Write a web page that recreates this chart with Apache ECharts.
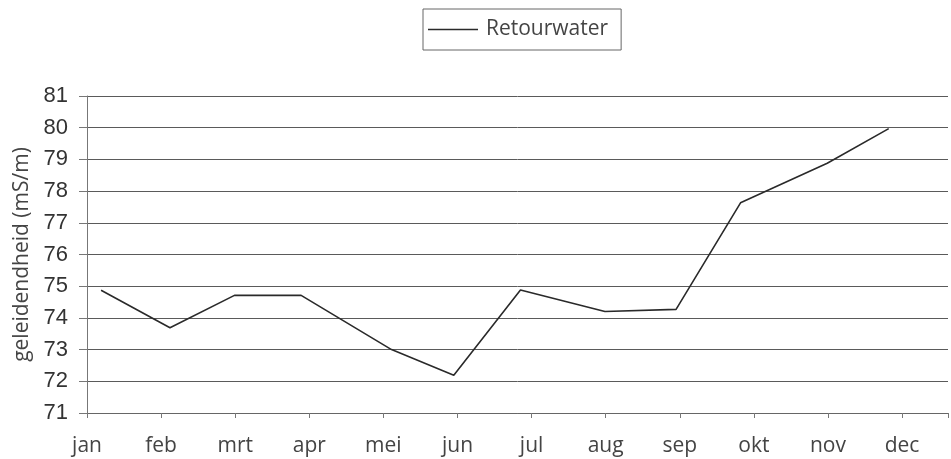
<!DOCTYPE html>
<html>
<head>
<meta charset="utf-8">
<script src="https://cdn.jsdelivr.net/npm/echarts@6/dist/echarts.min.js"></script>
<style>html,body{margin:0;padding:0;background:#fff;}#c{width:951px;height:459px;}</style>
</head>
<body>
<div id="c"></div>
<script>
// Month tick labels (x axis, one per month start)
const monthLabels = ['jan','feb','mrt','apr','mei','jun','jul','aug','sep','okt','nov','dec'];
// Measurement moments, in months since 1 January
const measureMonth = [0.19, 1.12, 1.99, 2.89, 4.11, 4.95, 5.85, 6.99, 7.95, 8.82, 9.99, 10.82];
// Conductivity of return water (mS/m)
const retourwater = [74.87, 73.69, 74.71, 74.71, 73.0, 72.19, 74.88, 74.2, 74.27, 77.63, 78.88, 79.97];
const yTicks = [71, 72, 73, 74, 75, 76, 77, 78, 79, 80, 81];

const chart = echarts.init(document.getElementById('c'), null, {renderer: 'canvas'});
const data = measureMonth.map((m, i) => [m, retourwater[i]]);

chart.setOption({
  animation: false,
  backgroundColor: '#ffffff',
  legend: {
    left: 423, top: 9,
    padding: [10, 13, 10, 5],
    borderColor: '#666', borderWidth: 1,
    itemWidth: 53, itemHeight: 14, itemGap: 8,
    textStyle: {fontFamily: 'Open Sans', fontSize: 21, color: '#444'},
    data: [{name: 'Retourwater', icon: 'path://M0,0 L50,0 L50,1.6 L0,1.6 Z M53,0 L53,0.01 L52.99,0 Z'}]
  },
  grid: {left: 87, right: 0, top: 96, bottom: 46, containLabel: false},
  xAxis: {
    type: 'value',
    min: 0, max: 11.62, interval: 1,
    axisLine: {show: true, lineStyle: {color: '#666', width: 1}},
    axisTick: {show: true, length: 5, lineStyle: {color: '#777'}},
    splitLine: {show: false},
    axisLabel: {
      margin: 23,
      fontFamily: 'Open Sans', fontSize: 21, color: '#444',
      formatter: v => (Number.isInteger(v) && v >= 0 && v < monthLabels.length) ? monthLabels[v] : ''
    }
  },
  yAxis: {
    type: 'value',
    min: yTicks[0], max: yTicks[yTicks.length - 1], interval: 1,
    name: 'geleidendheid (mS/m)',
    nameLocation: 'middle', nameGap: 53, nameRotate: 90,
    nameTextStyle: {fontFamily: 'Open Sans', fontSize: 21, color: '#444'},
    axisLine: {show: true, lineStyle: {color: '#777', width: 1}},
    axisTick: {show: true, length: 8, lineStyle: {color: '#777'}},
    splitLine: {show: true, lineStyle: {color: '#5a5a5a', width: 1}},
    axisLabel: {margin: 19, fontFamily: 'Liberation Sans', fontSize: 22, color: '#333'}
  },
  series: [{
    name: 'Retourwater',
    type: 'line',
    data: data,
    symbol: 'none',
    lineStyle: {color: '#2a2a2a', width: 1.6},
    itemStyle: {color: '#2a2a2a'}
  }]
});
</script>
</body>
</html>
